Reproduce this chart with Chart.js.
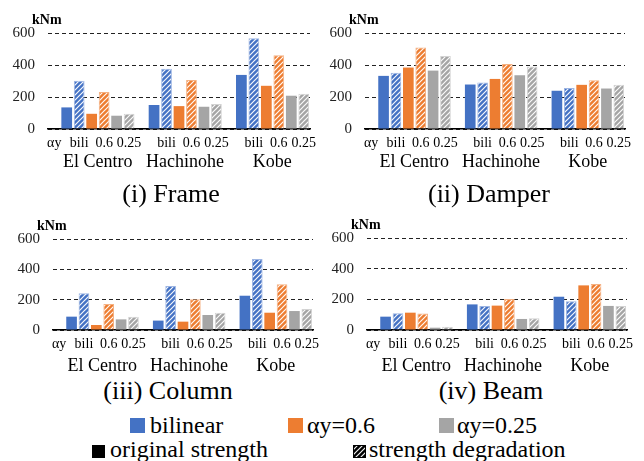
<!DOCTYPE html>
<html>
<head>
<meta charset="utf-8">
<script src="https://cdn.jsdelivr.net/npm/chart.js@4"></script>
<style>
  body { margin: 0; background: #fff; width: 644px; height: 461px; position: relative; overflow: hidden;
         font-family: "Liberation Serif", "Times New Roman", serif; color: #000; }
  canvas { position: absolute; }
  .title { position: absolute; width: 300px; text-align: center; font-size: 26px; line-height: 26px; }
  .leg { position: absolute; font-size: 24px; line-height: 24px; white-space: nowrap; }
  .sq { position: absolute; }
</style>
</head>
<body>
<canvas id="c1" width="322" height="172" style="left:0;top:0"></canvas>
<canvas id="c2" width="322" height="172" style="left:322px;top:0"></canvas>
<canvas id="c3" width="322" height="175" style="left:0;top:200px"></canvas>
<canvas id="c4" width="322" height="175" style="left:322px;top:200px"></canvas>

<div class="title" style="left:21px;top:181px">(i) Frame</div>
<div class="title" style="left:339px;top:181px">(ii) Damper</div>
<div class="title" style="left:18px;top:378px">(iii) Column</div>
<div class="title" style="left:341px;top:378px">(iv) Beam</div>

<div class="sq" style="left:130px;top:418px;width:15px;height:15px;background:#4472C4"></div>
<div class="leg" style="left:150px;top:413px">bilinear</div>
<div class="sq" style="left:288px;top:418px;width:15px;height:15px;background:#ED7D31"></div>
<div class="leg" style="left:307px;top:413px">αy=0.6</div>
<div class="sq" style="left:439px;top:418px;width:15px;height:15px;background:#A5A5A5"></div>
<div class="leg" style="left:457px;top:413px">αy=0.25</div>
<div class="sq" style="left:92px;top:445px;width:13px;height:13px;background:#000"></div>
<div class="leg" style="left:110px;top:437px">original strength</div>
<canvas id="hsq" width="13" height="13" style="left:353px;top:445px"></canvas>
<div class="leg" style="left:369px;top:437px">strength degradation</div>

<script>
const groups = ['El Centro', 'Hachinohe', 'Kobe'];
const subLabels = ['bili', '0.6', '0.25'];
const yTicks = [0, 200, 400, 600];

// frame (kNm)
const frameBiliOrig = [135, 150, 338];
const frameBiliDeg = [301, 376, 567];
const frame06Orig = [95, 143, 270];
const frame06Deg = [232, 307, 461];
const frame025Orig = [83, 139, 208];
const frame025Deg = [95, 156, 220];

// damper
const damperBiliOrig = [332, 278, 239];
const damperBiliDeg = [351, 291, 257];
const damper06Orig = [384, 313, 276];
const damper06Deg = [509, 407, 305];
const damper025Orig = [365, 336, 253];
const damper025Deg = [457, 390, 276];

// column
const columnBiliOrig = [88, 62, 226];
const columnBiliDeg = [242, 290, 468];
const column06Orig = [33, 55, 114];
const column06Deg = [171, 202, 301];
const column025Orig = [70, 99, 125];
const column025Deg = [88, 114, 138];

// beam
const beamBiliOrig = [87, 167, 217];
const beamBiliDeg = [109, 157, 187];
const beam06Orig = [113, 159, 291];
const beam06Deg = [107, 202, 300];
const beam025Orig = [15, 72, 157];
const beam025Deg = [22, 76, 157];

const colors = ['#4472C4', '#ED7D31', '#A5A5A5'];
const edgeColors = ['#9DB5E3', '#F4B183', '#D3D3D3'];

const serif = '"Liberation Serif", "Times New Roman", serif';
Chart.defaults.font.family = serif;
Chart.defaults.color = '#000';

function hatch(color) {
    const c = document.createElement('canvas');
    c.width = 5; c.height = 5;
    const x = c.getContext('2d');
    x.fillStyle = color; x.fillRect(0, 0, 5, 5);
    x.strokeStyle = 'rgba(255,255,255,0.95)'; x.lineWidth = 1.2;
    x.beginPath();
    x.moveTo(0, 5); x.lineTo(5, 0);
    x.moveTo(-1, 1); x.lineTo(1, -1);
    x.moveTo(4, 6); x.lineTo(6, 4);
    x.stroke();
    return x.createPattern(c, 'repeat');
}

// legend hatched square
(function () {
    const ctx = document.getElementById('hsq').getContext('2d');
    ctx.fillStyle = hatch('#000'); ctx.fillRect(0, 0, 13, 13);
    ctx.strokeStyle = '#000'; ctx.lineWidth = 1; ctx.strokeRect(0.5, 0.5, 12, 12);
})();

// labels under each bar pair (centred on the hatched bar, like the Excel multi-level axis)
const subLabelPlugin = {
    id: 'subLabels',
    afterDraw(chart) {
        const ctx = chart.ctx, area = chart.chartArea;
        ctx.save();
        ctx.fillStyle = '#000';
        ctx.font = '14px ' + serif;
        ctx.textAlign = 'center'; ctx.textBaseline = 'alphabetic';
        const yb = area.bottom + 18;
        groups.forEach((g, i) => {
            subLabels.forEach((s, k) => {
                const b = chart.getDatasetMeta(2 * k + 2).data[i];
                ctx.fillText(s, b.x, yb);
            });
        });
        const m1 = chart.getDatasetMeta(1).data[0], m2 = chart.getDatasetMeta(2).data[0];
        ctx.fillText('αy', m1.x - (m2.x - m1.x), yb);
        ctx.textAlign = 'left'; ctx.textBaseline = 'middle';
        ctx.font = 'bold 14px ' + serif;
        ctx.fillText('kNm', area.left - 16, area.top - 13);
        ctx.restore();
    }
};

function makeChart(id, series, box, groupPad) {
    const canvas = document.getElementById(id);
    const W = canvas.width, H = canvas.height;
    const yw = 40, xh = H - box.bottom;
    // first slot of each group is an empty spacer (where "αy" sits)
    const datasets = [{ data: groups.map(() => null), categoryPercentage: 1, barPercentage: 0.86 }];
    series.forEach((vals, j) => {
        const c = Math.floor(j / 2), deg = j % 2 === 1;
        datasets.push({
            data: vals,
            backgroundColor: deg ? hatch(colors[c]) : colors[c],
            borderColor: deg ? edgeColors[c] : colors[c],
            borderWidth: deg ? 1 : 0,
            categoryPercentage: 1,
            barPercentage: 0.86,
        });
    });
    new Chart(canvas, {
        type: 'bar',
        data: { labels: groups, datasets },
        plugins: [subLabelPlugin],
        options: {
            responsive: false,
            animation: false,
            layout: { padding: { top: box.top, left: box.left - yw, right: W - box.right, bottom: 0 } },
            plugins: { legend: { display: false }, tooltip: { enabled: false } },
            scales: {
                x: {
                    grid: { display: false, drawTicks: false },
                    border: { display: true, color: '#000', width: 1.5 },
                    ticks: { padding: groupPad, labelOffset: 6, font: { size: 18 }, color: '#000', maxRotation: 0, autoSkip: false },
                    afterFit(scale) { scale.height = xh; },
                },
                y: {
                    min: 0, max: 600,
                    afterBuildTicks(scale) { scale.ticks = yTicks.map(v => ({ value: v })); },
                    grid: { color: '#222', lineWidth: 1, drawTicks: false },
                    border: { display: false, dash: [4, 3] },
                    ticks: { padding: 13, font: { size: 15 }, color: '#222' },
                    afterFit(scale) { scale.width = yw; },
                },
            },
        },
    });
}

makeChart('c1', [frameBiliOrig, frameBiliDeg, frame06Orig, frame06Deg, frame025Orig, frame025Deg],
    { left: 48, right: 310, top: 33, bottom: 129 }, 22);
makeChart('c2', [damperBiliOrig, damperBiliDeg, damper06Orig, damper06Deg, damper025Orig, damper025Deg],
    { left: 43, right: 303, top: 33, bottom: 129 }, 22);
makeChart('c3', [columnBiliOrig, columnBiliDeg, column06Orig, column06Deg, column025Orig, column025Deg],
    { left: 53, right: 313, top: 39, bottom: 130 }, 25);
makeChart('c4', [beamBiliOrig, beamBiliDeg, beam06Orig, beam06Deg, beam025Orig, beam025Deg],
    { left: 45, right: 305, top: 38, bottom: 130 }, 25);
</script>
</body>
</html>
